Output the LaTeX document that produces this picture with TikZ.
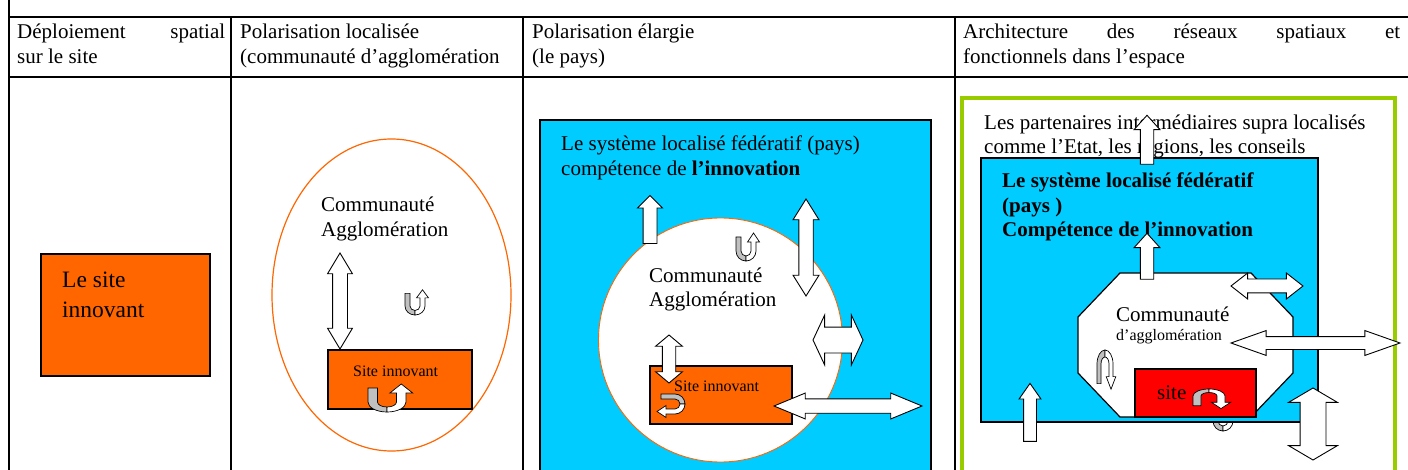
\documentclass[tikz,border=0pt]{standalone}
\usepackage{fontspec}
\setmainfont{Liberation Serif}
\usepackage{tikz}
\usetikzlibrary{shapes.arrows,shapes.geometric}
\definecolor{siteorange}{RGB}{255,102,0}
\definecolor{paysblue}{RGB}{0,204,255}
\definecolor{framegreen}{RGB}{153,204,0}
\definecolor{sitered}{RGB}{255,0,0}
\definecolor{loopgray}{RGB}{192,192,192}

\begin{document}
\begin{tikzpicture}[x=1pt,y=-1pt,
  txt/.style={anchor=base west,inner sep=0pt,align=left,
              font=\fontsize{21}{24.5}\selectfont},
  small/.style={anchor=base west,inner sep=0pt,align=left,
              font=\fontsize{16}{19}\selectfont},
  grid/.style={line width=1.5pt,black},
  box/.style={draw=black,line width=1.2pt,inner sep=0pt},
  darr/.style={double arrow,draw=black,fill=white,line width=0.9pt,
               inner xsep=0pt,double arrow head indent=0pt},
  sarr/.style={single arrow,draw=black,fill=white,line width=0.9pt,
               inner xsep=0pt,single arrow head indent=0pt},
  uturn/.pic={
    \draw[fill=loopgray,line width=0.7pt] (-10,-14) -- (-10,0)
      arc[start angle=180,end angle=90,radius=10] -- (0,5)
      arc[start angle=90,end angle=180,radius=5] -- (-5,-14) -- cycle;
    \draw[fill=white,line width=0.7pt] (0,10)
      arc[start angle=90,end angle=0,radius=10] -- (10,-9) -- (13.5,-9)
      -- (7.5,-18) -- (1.5,-9) -- (5,-9) -- (5,0)
      arc[start angle=0,end angle=90,radius=5] -- cycle;}]
  \useasboundingbox (0,0) rectangle (1408,470);
  % table
  \draw[grid] (9,0) -- (9,470);
  \draw[grid] (9,17) -- (1408,17);
  \draw[grid] (9,77) -- (1408,77);
  \draw[grid] (231,17) -- (231,470);
  \draw[grid] (523,17) -- (523,470);
  \draw[grid] (955,17) -- (955,470);
  \node[txt](hdr1) at (17,63.5) {\makebox[208pt][s]{Déploiement spatial}\\sur le site};
  \node[txt](hdr2) at (240,63.5) {Polarisation localisée\\(communauté d’agglomération};
  \node[txt](hdr3) at (532,63.5) {Polarisation élargie\\(le pays)};
  \node[txt](hdr4) at (963,63.5) {\makebox[437pt][s]{Architecture des réseaux spatiaux et}\\fonctionnels dans l’espace};
  % site
  \node[box,fill=siteorange,minimum width=169pt,minimum height=122pt](site1) at (125.5,315) {};
  \node[txt,font=\fontsize{23.5}{29}\selectfont](site1txt) at (62,317) {Le site\\innovant};
  % communaute
  \node[ellipse,draw=siteorange,line width=1.2pt,minimum width=239pt,minimum height=312pt](agglo2) at (391.5,295) {};
  \node[txt](agglo2txt) at (321,236.5) {Communauté\\Agglomération};
  \node[darr,rotate=90,minimum height=96pt,inner ysep=7pt,
        double arrow head extend=5pt,double arrow tip angle=62](lien2) at (340,301) {};
  \node[box,fill=siteorange,minimum width=144pt,minimum height=59pt](site2) at (400,379.5) {};
  \node[small](site2txt) at (353,376) {Site innovant};
  \pic[xscale=1.9] at (387,402) {uturn};
  \pic[yscale=0.9] at (415,306) {uturn};
  % pays
  \node[box,fill=paysblue,minimum width=391pt,minimum height=362pt](pays3) at (735.5,301) {};
  \node[txt](pays3txt) at (561,175.5) {Le système localisé fédératif (pays)\\compétence de \textbf{l’innovation}};
  \node[circle,draw=siteorange,fill=white,line width=0.9pt,minimum size=244pt](agglo3) at (720.5,340) {};
  \node[txt](agglo3txt) at (649,306.5) {Communauté\\Agglomération};
  \pic at (746,251) {uturn};
  \node[sarr,rotate=90,minimum height=48pt,inner ysep=6.5pt,
        single arrow head extend=5.5pt,single arrow tip angle=90](haut3) at (650,223) {};
  \node[darr,rotate=90,minimum height=97pt,inner ysep=6.75pt,
        double arrow head extend=5.75pt,double arrow tip angle=64](vert3) at (806,247.5) {};
  \node[darr,minimum height=50pt,inner ysep=12.5pt,
        double arrow head extend=12pt,double arrow tip angle=130](lat3) at (838,340) {};
  \node[box,fill=siteorange,minimum width=142pt,minimum height=58pt](site3) at (721,395) {};
  \node[darr,rotate=90,minimum height=48pt,inner ysep=6.25pt,
        double arrow head extend=6.75pt,double arrow tip angle=100](bas3) at (669,359) {};
  \node[small](site3txt) at (674,391) {Site innovant};
  \pic[cm={0,-1,-1,0,(0,0)}] at (675,404) {uturn};
  \node[darr,minimum height=148pt,inner ysep=6.75pt,
        double arrow head extend=5.75pt,double arrow tip angle=45](ext3) at (848,406) {};
  % reseaux
  \node[draw=framegreen,line width=4.5pt,minimum width=433pt,minimum height=382pt](reseau4) at (1178.5,289) {};
  \node[txt](supra4txt) at (984,154) {Les partenaires intermédiaires supra localisés\\comme l’Etat, les régions, les conseils};
  \pic at (1223,421) {uturn};
  \node[box,fill=paysblue,minimum width=337pt,minimum height=264pt](pays4) at (1149.5,290) {};
  \node[txt,font=\fontsize{21}{24.5}\selectfont\bfseries](pays4txt) at (1002,237)
    {Le système localisé fédératif\\(pays )\\Compétence de l’innovation};
  \draw[fill=white,line width=1.2pt] (1120,273) -- (1251,273) -- (1293,317) -- (1293,373)
    -- (1251,417) -- (1120,417) -- (1078,373) -- (1078,317) -- cycle;
  \node[txt](agglo4txt) at (1116,321) {Communauté};
  \node[small](agglo4sub) at (1116,340) {d’agglomération};
  \node[sarr,rotate=90,minimum height=49pt,inner ysep=6.25pt,
        single arrow head extend=6.25pt,single arrow tip angle=84](haut4) at (1147,143.5) {};
  \node[sarr,rotate=90,minimum height=46pt,inner ysep=6.25pt,
        single arrow head extend=6.25pt,single arrow tip angle=84](sortie4) at (1147,260) {};
  \node[box,fill=sitered,minimum width=121pt,minimum height=48pt](site4) at (1195.5,393) {};
  \node[txt](site4txt) at (1157,399) {site};
  \pic[xscale=1.6,yscale=-0.7] at (1209,396) {uturn};
  \pic[xscale=0.8,yscale=-1.4] at (1105,364) {uturn};
  \node[darr,minimum height=72pt,inner ysep=6.5pt,
        double arrow head extend=6pt,double arrow tip angle=76](lat4) at (1267,286) {};
  \node[darr,minimum height=169pt,inner ysep=6pt,
        double arrow head extend=6pt,double arrow tip angle=39](ext4) at (1315.5,343) {};
  \node[sarr,rotate=90,minimum height=58pt,inner ysep=6pt,
        single arrow head extend=4.5pt,single arrow tip angle=70](entree4) at (1030,417) {};
  \node[darr,rotate=90,minimum height=72pt,inner ysep=12.5pt,
        double arrow head extend=11.5pt,double arrow tip angle=119](vert4) at (1313,424) {};
\end{tikzpicture}
\end{document}
